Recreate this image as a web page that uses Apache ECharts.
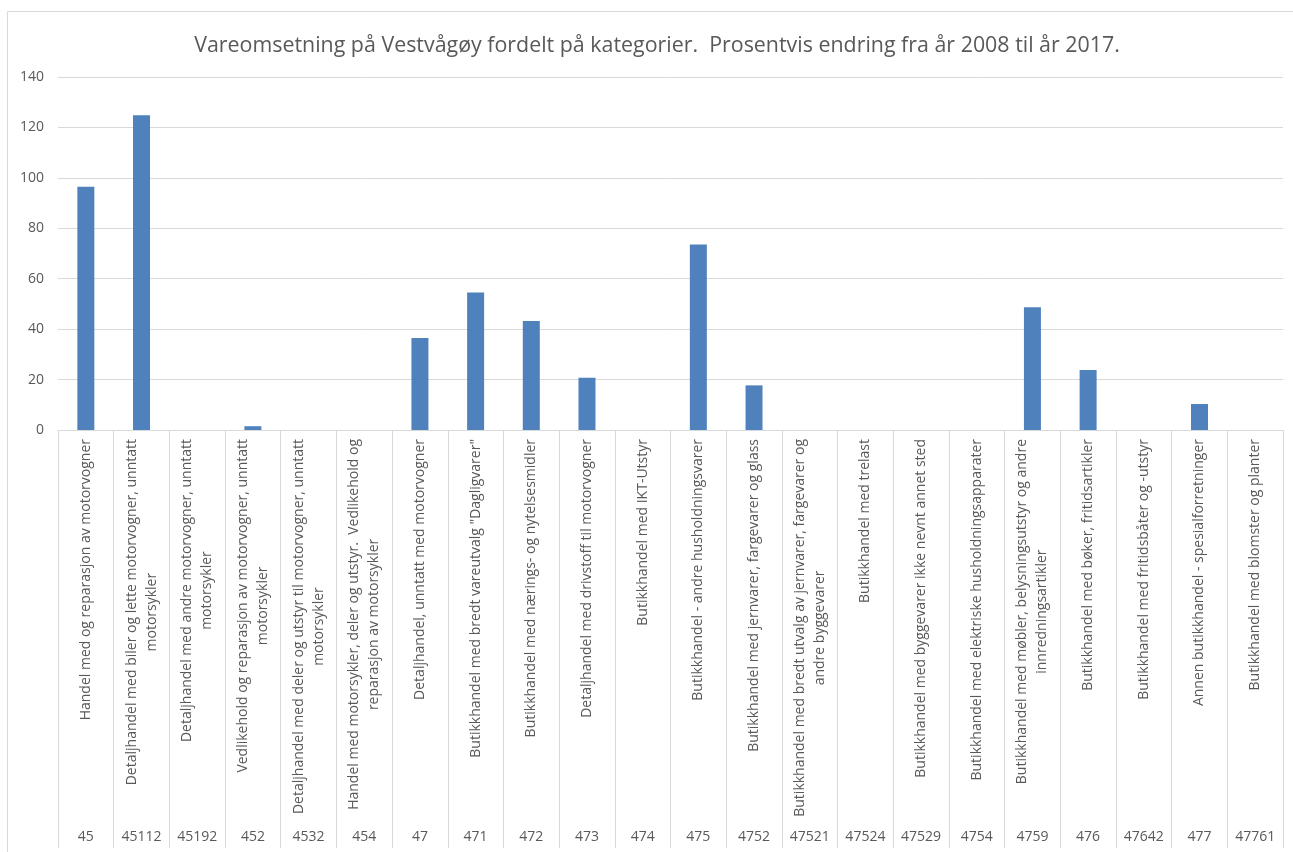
<!DOCTYPE html>
<html>
<head>
<meta charset="utf-8">
<script src="https://cdn.jsdelivr.net/npm/echarts@6/dist/echarts.min.js"></script>
<style>
  html, body { margin: 0; padding: 0; background: #ffffff; }
  #chart { width: 1293px; height: 852px; }
</style>
</head>
<body>
<div id="chart"></div>
<script>
// Næringskoder (NACE) og kategorinavn
const codes = ['45', '45112', '45192', '452', '4532', '454', '47', '471', '472', '473', '474',
  '475', '4752', '47521', '47524', '47529', '4754', '4759', '476', '47642', '477', '47761'];

const categories = [
  'Handel med og reparasjon av motorvogner',
  'Detaljhandel med biler og lette motorvogner, unntatt\nmotorsykler',
  'Detaljhandel med andre motorvogner, unntatt\nmotorsykler',
  'Vedlikehold og reparasjon av motorvogner, unntatt\nmotorsykler',
  'Detaljhandel med deler og utstyr til motorvogner, unntatt\nmotorsykler',
  'Handel med motorsykler, deler og utstyr.  Vedlikehold og\nreparasjon av motorsykler',
  'Detaljhandel, unntatt med motorvogner',
  'Butikkhandel med bredt vareutvalg "Dagligvarer"',
  'Butikkhandel med nærings- og nytelsesmidler',
  'Detaljhandel med drivstoff til motorvogner',
  'Butikkhandel med IKT-Utstyr',
  'Butikkhandel - andre husholdningsvarer',
  'Butikkhandel med jernvarer, fargevarer og glass',
  'Butikkhandel med bredt utvalg av jernvarer, fargevarer og\nandre byggevarer',
  'Butikkhandel med trelast',
  'Butikkhandel med byggevarer ikke nevnt annet sted',
  'Butikkhandel med elektriske husholdningsapparater',
  'Butikkhandel med møbler, belysningsutstyr og andre\ninnredningsartikler',
  'Butikkhandel med bøker, fritidsartikler',
  'Butikkhandel med fritidsbåter og -utstyr',
  'Annen butikkhandel - spesialforretninger',
  'Butikkhandel med blomster og planter'
];

// Prosentvis endring i vareomsetning 2008–2017
const changePct = [96.5, 124.8, null, 1.5, null, null, 36.5, 54.5, 43.2, 20.7, null,
  73.6, 17.7, null, null, null, null, 48.7, 23.8, null, 10.3, null];

const yTicks = { min: 0, max: 140, interval: 20 };

const titleText = 'Vareomsetning på Vestvågøy fordelt på kategorier.  Prosentvis endring fra år 2008 til år 2017.';

const FONT = '"Open Sans", sans-serif';
const TEXT = '#595959';
const GRIDLINE = '#d9d9d9';

const chart = echarts.init(document.getElementById('chart'), null, { renderer: 'canvas' });

chart.setOption({
  backgroundColor: '#ffffff',
  animation: false,
  title: {
    text: titleText,
    left: 652,
    top: 30,
    textAlign: 'center',
    textStyle: { fontFamily: FONT, fontSize: 21.4, fontWeight: 'normal', color: TEXT }
  },
  graphic: [{
    type: 'rect',
    shape: { x: 7.5, y: 11.5, width: 1300, height: 900 },
    style: { fill: 'none', stroke: GRIDLINE, lineWidth: 1 },
    silent: true
  }],
  grid: { left: 58, right: 10, top: 77, bottom: 422, containLabel: false },
  xAxis: [{
    type: 'category',
    data: categories,
    position: 'bottom',
    axisLine: { show: true, lineStyle: { color: GRIDLINE, width: 1 } },
    axisTick: { show: true, interval: 0, length: 418, lineStyle: { color: GRIDLINE, width: 1 } },
    axisLabel: {
      interval: 0,
      rotate: 90,
      margin: 9,
      color: TEXT,
      fontFamily: FONT,
      fontSize: 14,
      lineHeight: 20,
      formatter: function (v) {
        return v.split('\n').map(function (s) { return '{c|' + s + '}'; }).join('\n');
      },
      rich: { c: { align: 'center', color: TEXT, fontFamily: FONT, fontSize: 14, lineHeight: 20 } }
    }
  }, {
    type: 'category',
    data: codes,
    position: 'bottom',
    axisLine: { show: false },
    axisTick: { show: false },
    axisLabel: { interval: 0, margin: 400, color: TEXT, fontFamily: FONT, fontSize: 14 }
  }],
  yAxis: {
    type: 'value',
    min: yTicks.min,
    max: yTicks.max,
    interval: yTicks.interval,
    axisLine: { show: false },
    axisTick: { show: false },
    splitLine: { lineStyle: { color: GRIDLINE, width: 1 } },
    axisLabel: { color: TEXT, fontFamily: FONT, fontSize: 14, margin: 14 }
  },
  series: [{
    type: 'bar',
    data: changePct,
    barWidth: 17,
    itemStyle: { color: '#4f81bd' }
  }]
});
</script>
</body>
</html>
